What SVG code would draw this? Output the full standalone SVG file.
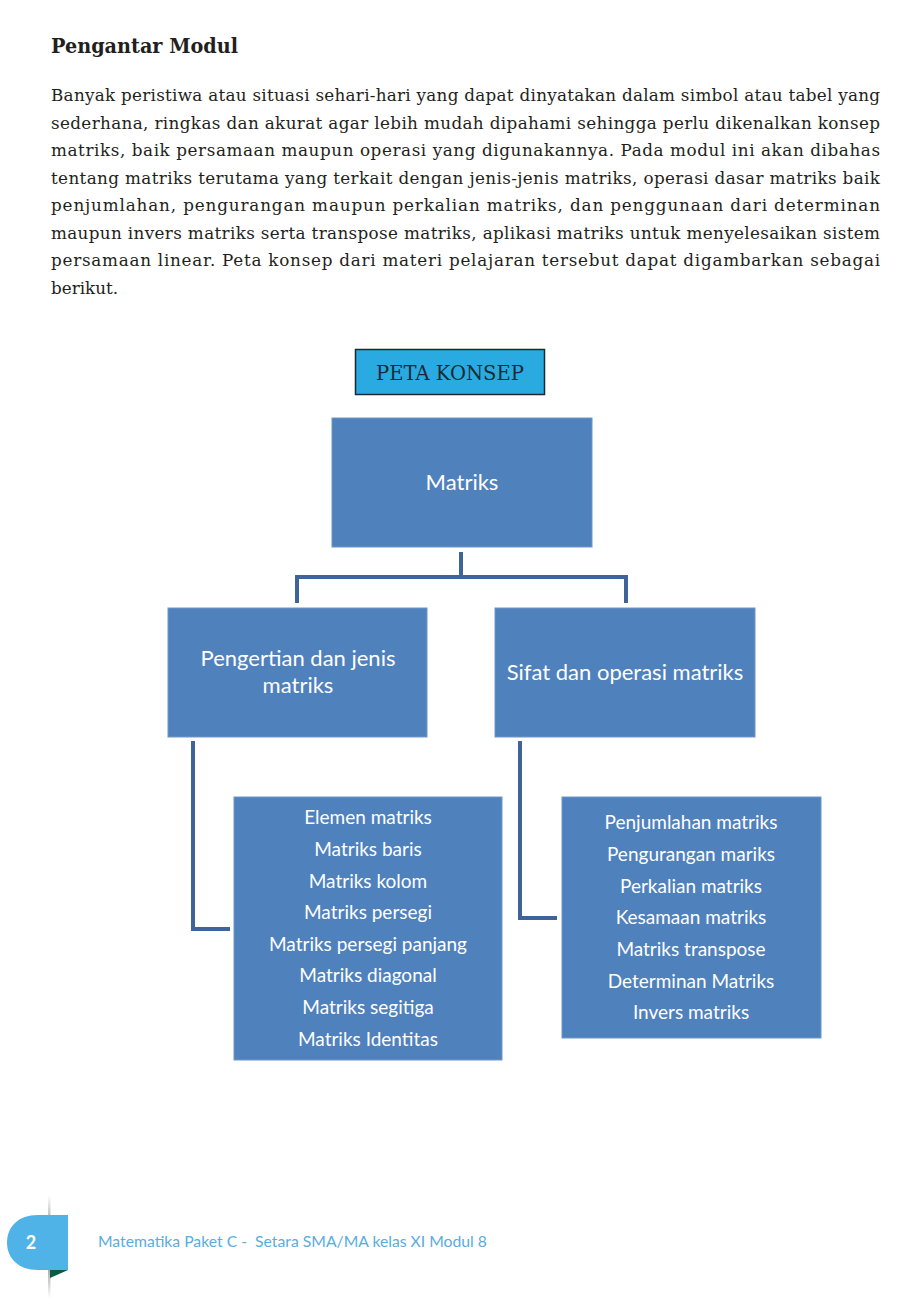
<svg xmlns="http://www.w3.org/2000/svg" width="921" height="1314" viewBox="0 0 921 1314">
<defs>
<style>
.body{font-family:"DejaVu Serif","Liberation Serif",serif;font-size:16.8px;fill:#231f20}
.title{font-family:"DejaVu Serif","Liberation Serif",serif;font-size:20px;font-weight:bold;fill:#231f20}
.box{fill:#4f81bd;stroke:#6f97c8;stroke-width:1}
.lbl{font-family:Lato,"Open Sans","Liberation Sans",sans-serif;fill:#ffffff;text-anchor:middle}
.big{font-size:22px}
.item{font-size:19px}
.conn{fill:none;stroke:#3f649a;stroke-width:4}
</style>
<linearGradient id="gl" x1="0" y1="0" x2="0" y2="1">
<stop offset="0" stop-color="#ffffff"/>
<stop offset="0.5" stop-color="#666666"/>
<stop offset="1" stop-color="#ffffff"/>
</linearGradient>
</defs>
<rect width="921" height="1314" fill="#ffffff"/>

<text class="title" x="51" y="53" textLength="187" lengthAdjust="spacingAndGlyphs">Pengantar Modul</text>
<g id="paragraph">
<text class="body" x="51" y="101" textLength="829" lengthAdjust="spacing">Banyak peristiwa atau situasi sehari-hari yang dapat dinyatakan dalam simbol atau tabel yang</text>
<text class="body" x="51" y="128.5" textLength="829" lengthAdjust="spacing">sederhana, ringkas dan akurat agar lebih mudah dipahami sehingga perlu dikenalkan konsep</text>
<text class="body" x="51" y="156" textLength="829" lengthAdjust="spacing">matriks, baik persamaan maupun operasi yang digunakannya. Pada modul ini akan dibahas</text>
<text class="body" x="51" y="183.5" textLength="829" lengthAdjust="spacing">tentang matriks terutama yang terkait dengan jenis-jenis matriks, operasi dasar matriks baik</text>
<text class="body" x="51" y="211" textLength="829" lengthAdjust="spacing">penjumlahan, pengurangan maupun perkalian matriks, dan penggunaan dari determinan</text>
<text class="body" x="51" y="238.5" textLength="829" lengthAdjust="spacing">maupun invers matriks serta transpose matriks, aplikasi matriks untuk menyelesaikan sistem</text>
<text class="body" x="51" y="266" textLength="829" lengthAdjust="spacing">persamaan linear. Peta konsep dari materi pelajaran tersebut dapat digambarkan sebagai</text>
<text class="body" x="51" y="293.5">berikut.</text>
</g>

<g id="peta-konsep">
<rect x="355.5" y="349.5" width="189" height="45" fill="#29abe2" stroke="#1a2a33" stroke-width="1.5"/>
<text x="450" y="380" font-family="DejaVu Serif,Liberation Serif,serif" font-size="19.5" fill="#1a2a33" text-anchor="middle" textLength="148" lengthAdjust="spacingAndGlyphs">PETA KONSEP</text>
</g>

<g id="connectors">
<path class="conn" d="M461,552 V577 M297,603 V577 H626 V603"/>
<path class="conn" d="M193,741 V929 H230"/>
<path class="conn" d="M520,741 V918 H557"/>
</g>

<g id="matriks">
<rect class="box" x="332" y="418" width="260" height="129"/>
<text class="lbl big" x="462" y="490">Matriks</text>
</g>

<g id="pengertian">
<rect class="box" x="168" y="608" width="259" height="129"/>
<text class="lbl big" x="298" y="666">Pengertian dan jenis</text>
<text class="lbl big" x="298" y="693">matriks</text>
</g>

<g id="sifat">
<rect class="box" x="495" y="608" width="260" height="129"/>
<text class="lbl big" x="625" y="680">Sifat dan operasi matriks</text>
</g>

<g id="jenis-list">
<rect class="box" x="234" y="797" width="268" height="263"/>
<text class="lbl item" x="368" y="824">Elemen matriks</text>
<text class="lbl item" x="368" y="856">Matriks baris</text>
<text class="lbl item" x="368" y="888">Matriks kolom</text>
<text class="lbl item" x="368" y="919">Matriks persegi</text>
<text class="lbl item" x="368" y="951">Matriks persegi panjang</text>
<text class="lbl item" x="368" y="982">Matriks diagonal</text>
<text class="lbl item" x="368" y="1014">Matriks segitiga</text>
<text class="lbl item" x="368" y="1046">Matriks Identitas</text>
</g>

<g id="operasi-list">
<rect class="box" x="562" y="797" width="259" height="241"/>
<text class="lbl item" x="691" y="829">Penjumlahan matriks</text>
<text class="lbl item" x="691" y="861">Pengurangan mariks</text>
<text class="lbl item" x="691" y="893">Perkalian matriks</text>
<text class="lbl item" x="691" y="924">Kesamaan matriks</text>
<text class="lbl item" x="691" y="956">Matriks transpose</text>
<text class="lbl item" x="691" y="988">Determinan Matriks</text>
<text class="lbl item" x="691" y="1019">Invers matriks</text>
</g>

<g id="footer">
<rect x="48" y="1195" width="2.5" height="103" fill="url(#gl)"/>
<path d="M50,1270 H68 L50,1278 Z" fill="#0b5a45"/>
<path d="M68,1215 V1270 H38 C18,1270 7,1258 7,1242.5 C7,1227 18,1215 38,1215 Z" fill="#4fb3e8"/>
<text x="31" y="1249" font-family="Lato,Open Sans,Liberation Sans,sans-serif" font-size="18" font-weight="bold" fill="#ffffff" text-anchor="middle">2</text>
<text x="98" y="1247" font-family="Lato,Open Sans,Liberation Sans,sans-serif" font-size="16" fill="#5aacdf" textLength="389" lengthAdjust="spacingAndGlyphs" xml:space="preserve">Matematika Paket C -  Setara SMA/MA kelas XI Modul 8</text>
</g>
</svg>
